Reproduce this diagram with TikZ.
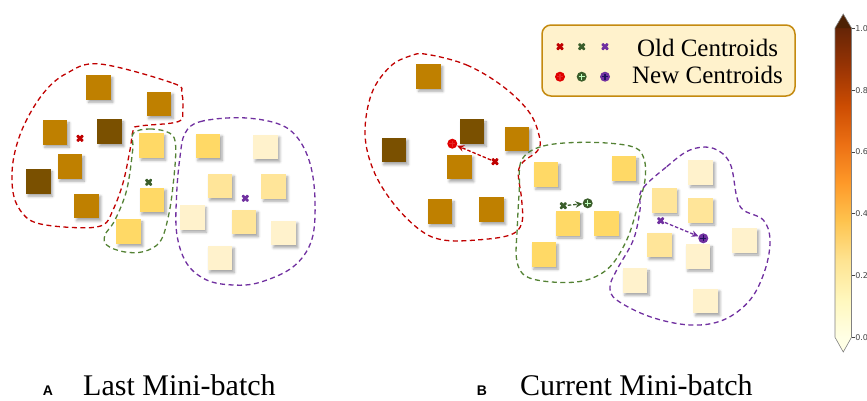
\documentclass[tikz,border=0pt]{standalone}
\usepackage{fontspec}
\setmainfont{Liberation Serif}
\newfontfamily\tagfont{Liberation Sans}
\newfontfamily\symfont{DejaVu Sans}
\usetikzlibrary{shadows,shadows.blur,arrows.meta}

\definecolor{darkb}{HTML}{7A5000}
\definecolor{midb}{HTML}{BF8000}
\definecolor{yel}{HTML}{FFD966}
\definecolor{paley}{HTML}{FFE599}
\definecolor{lighty}{HTML}{FFF2CC}
\definecolor{cred}{HTML}{C00000}
\definecolor{nred}{HTML}{E00000}
\definecolor{cgreen}{HTML}{548235}
\definecolor{dgreen}{HTML}{3B5E2B}
\definecolor{cpurple}{HTML}{7030A0}
\definecolor{dpurple}{HTML}{1F1060}
\definecolor{legbg}{HTML}{FFF2CC}
\definecolor{legline}{HTML}{C48A10}
\definecolor{tickgray}{HTML}{444444}
\definecolor{cm0}{HTML}{FFFFE5}
\definecolor{cm1}{HTML}{FFF7BC}
\definecolor{cm2}{HTML}{FEE391}
\definecolor{cm3}{HTML}{FEC44F}
\definecolor{cm4}{HTML}{FE9929}
\definecolor{cm5}{HTML}{EC7014}
\definecolor{cm6}{HTML}{CC4C02}
\definecolor{cm7}{HTML}{993404}
\definecolor{cm8}{HTML}{662506}
\definecolor{cmtop}{HTML}{4E2204}

\begin{document}
\begin{tikzpicture}[x=1pt,y=-1pt,
	sq/.style={rectangle,minimum size=24.5pt,inner sep=0pt,blur shadow={shadow xshift=2pt,shadow yshift=-2.5pt,shadow blur radius=2.5pt,shadow opacity=35}},
	hull/.style={line width=1.3pt,dash pattern=on 5pt off 3.5pt},
	oldc/.style={circle,inner sep=0pt,minimum size=8.5pt,
		path picture={\draw[#1,line width=2.8pt] (path picture bounding box.north west) -- (path picture bounding box.south east) (path picture bounding box.north east) -- (path picture bounding box.south west);}},
	newc/.style 2 args={circle,fill=#1,inner sep=0pt,minimum size=10pt,
		path picture={\draw[#2,line width=1.4pt] ([yshift=-3pt]path picture bounding box.center) -- ([yshift=3pt]path picture bounding box.center) ([xshift=-3pt]path picture bounding box.center) -- ([xshift=3pt]path picture bounding box.center);}},
	arr/.style={line width=1.3pt,dash pattern=on 3.5pt off 2pt,-{Stealth[length=7pt,width=6.5pt]}},
	tag/.style={font=\tagfont\bfseries\fontsize{14}{14}\selectfont,inner sep=0pt,anchor=base},
	captext/.style={font=\fontsize{30}{30}\selectfont,inner sep=0pt,anchor=base west},
	legtext/.style={font=\fontsize{25}{25}\selectfont,inner sep=0pt,anchor=base}]

	\clip (0,0) rectangle (867,400);

	\foreach \n/\x/\y/\c in {l1/98.7/87.5/midb, l2/159/104/midb, l3/55/132.5/midb, l4/109.7/131.7/darkb,
		l5/70/166.5/midb, l6/38.3/181.5/darkb, l7/86.7/206/midb, l8/151.5/145.5/yel, l9/152/200/yel,
		l10/128.7/231.7/yel, l11/208/146/yel, l12/265.5/147/lighty, l13/220/186/paley, l14/273.7/186.5/paley,
		l15/192.3/217.5/lighty, l16/244/222/paley, l17/283.7/233/lighty, l18/220/258/lighty}
	\draw (\x,\y) node (\n) [sq,fill=\c] {};

	\foreach \n/\x/\y/\c in {r1/428.7/76.5/midb, r2/472/131.7/darkb, r3/517/139/midb, r4/393.8/150/darkb,
		r5/459.5/167/midb, r6/440/211.5/midb, r7/491.5/209.7/midb, r8/546/174.5/yel, r9/624/168.7/yel,
		r10/567.8/223.3/yel, r11/606.5/223.3/yel, r12/543.8/254.5/yel, r13/700.7/172.5/lighty,
		r14/664.3/200.3/paley, r15/700.7/210.3/paley, r16/744.7/240.3/lighty, r17/659.3/244.8/paley,
		r18/698/256.5/lighty, r19/635/280.7/lighty, r20/705.7/301/lighty}
	\draw (\x,\y) node (\n) [sq,fill=\c] {};

	\draw[hull,cred] plot[smooth cycle,tension=0.6] coordinates {(100,64) (173.3,83.3) (181.7,93.3) (182.7,110) (178,121.7) (140,126) (133.3,130) (130,150) (123,183) (113,210) (103,225) (77,227.7) (36.7,223) (20,210) (12.7,190) (13.3,160) (23.3,126.7) (43.3,93.3) (66.7,73.3)};
	\draw[hull,cgreen] plot[smooth cycle,tension=0.6] coordinates {(133.3,133.3) (150,129) (170,133.3) (175.7,146.7) (173.3,183.3) (168.3,216.7) (160,241.7) (143.3,251.7) (123.3,251.7) (106.7,245) (105,235) (115,220) (126.7,190) (132.7,150)};
	\draw[hull,cpurple] plot[smooth cycle,tension=0.6] coordinates {(185,133.3) (200,121.7) (240,117.7) (276.7,123.3) (296.7,136.7) (310,163.3) (315,200) (311.7,240) (293.3,266.7) (260,282.3) (233.3,285) (206.7,280) (186.7,263.3) (176.7,233.3) (176.7,193.3) (180,156.7)};

	\draw[hull,cred] plot[smooth cycle,tension=0.6] coordinates {(426.7,54.3) (466.7,65) (503.3,86.7) (530,113.3) (540,140) (536.7,151.7) (523.3,161.7) (518.3,173.3) (521.7,200) (521.7,223.3) (510,235) (476.7,240) (443.3,240) (420,230) (393.3,203.3) (373.3,170) (365,133.3) (371.7,93.3) (390,66.7) (410,56)};
	\draw[hull,cgreen] plot[smooth cycle,tension=0.6] coordinates {(521.7,160) (543.3,146) (586.7,142.3) (630,146) (643.3,156.7) (645,180) (636.7,210) (626.7,240) (610,266.7) (586.7,280) (556.7,282.3) (526.7,276.7) (516.7,260) (517.3,226.7) (519.3,190)};
	\draw[hull,cpurple] plot[smooth cycle,tension=0.6] coordinates {(641.7,190) (666.7,166.7) (690,150) (713.3,148.3) (730,163.3) (736.7,196.7) (743.3,210) (763.3,220) (770,240) (765,270) (750,300) (723.3,320) (690,325) (650,316.7) (616.7,300) (610,286.7) (616.7,270) (633.3,240) (640,210)};

	\draw (80,138.3) node (lro) [oldc=cred] {};
	\draw (148.7,182.3) node (lgo) [oldc=dgreen] {};
	\draw (245.3,198.3) node (lpo) [oldc=cpurple] {};

	\draw (495,161.7) node (rro) [oldc=cred] {};
	\draw (452.3,143.7) node (rrn) [newc={nred}{nred!85!white}] {};
	\draw (563.3,205.7) node (rgo) [oldc=dgreen] {};
	\draw (587.7,203.3) node (rgn) [newc={dgreen}{green!25}] {};
	\draw (660.7,220.7) node (rpo) [oldc=cpurple] {};
	\draw (703.3,238.3) node (rpn) [newc={cpurple}{dpurple}] {};

	\draw[arr,cred] (rro) -- (rrn);
	\draw[arr,dgreen] (rgo) -- (rgn);
	\draw[arr,cpurple] (rpo) -- (rpn);

	\draw (668.5,60.5) node (leg) [draw=legline,fill=legbg,line width=1.5pt,rounded corners=9pt,minimum width=253pt,minimum height=71pt] {};
	\draw (560,46.7) node (k1) [oldc=cred] {};
	\draw (581.7,46.7) node (k2) [oldc=dgreen] {};
	\draw (605,46.7) node (k3) [oldc=cpurple] {};
	\draw (560,76.7) node (k4) [newc={nred}{nred!85!white}] {};
	\draw (581.7,76.7) node (k5) [newc={dgreen}{green!25}] {};
	\draw (605,76.7) node (k6) [newc={cpurple}{dpurple}] {};
	\draw (707.5,56) node (told) [legtext] {Old Centroids};
	\draw (707.5,83.3) node (tnew) [legtext] {New Centroids};

	\draw (48,395) node (ta) [tag] {A};
	\draw (83,395) node (la) [captext] {Last Mini-batch};
	\draw (482,395) node (tb) [tag] {B};
	\draw (520,395) node (lb) [captext] {Current Mini-batch};

	\foreach \v/\ca/\cb in {0/cm0/cm1, 0.125/cm1/cm2, 0.25/cm2/cm3, 0.375/cm3/cm4, 0.5/cm4/cm5, 0.625/cm5/cm6, 0.75/cm6/cm7, 0.875/cm7/cm8}
	\shade[bottom color=\ca,top color=\cb] (835,{337.3-309*\v+0.2}) rectangle (851.5,{337.3-309*(\v+0.125)-0.2});
	\fill[cmtop] (835,28) -- (843.25,14) -- (851.5,28) -- cycle;
	\fill[cm0] (835,337.3) -- (843.25,352) -- (851.5,337.3) -- cycle;
	\draw[gray,line width=0.6pt] (835,28) -- (843.25,14) -- (851.5,28) -- (851.5,337.3) -- (843.25,352) -- (835,337.3) -- cycle;
	\foreach \v in {0.0,0.2,0.4,0.6,0.8,1.0}
	\draw[tickgray,line width=0.5pt] (851.5,{337.3-309*\v}) -- (854.5,{337.3-309*\v}) node[right,inner sep=0.5pt,font=\symfont\fontsize{8}{8}\selectfont,text=tickgray] {\v};
\end{tikzpicture}
\end{document}
